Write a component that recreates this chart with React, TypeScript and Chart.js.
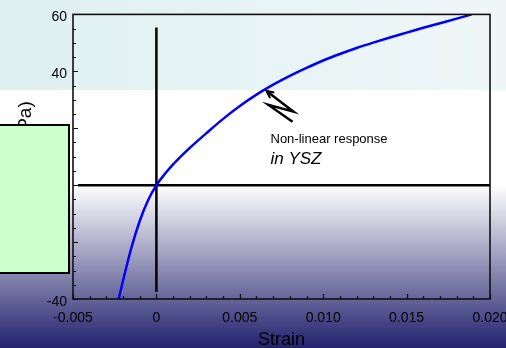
import React, { useEffect, useRef } from "react";
import { Chart, registerables } from "chart.js";

Chart.register(...registerables);

// ---- data ----
const strainValues = [
  -0.00228, -0.002, -0.0015, -0.001, -0.0005, 0, 0.0005, 0.001, 0.0015, 0.002,
  0.003, 0.004, 0.005, 0.006, 0.007, 0.008, 0.009, 0.01, 0.011, 0.012, 0.013,
  0.014, 0.015, 0.016, 0.017, 0.018, 0.0189,
];
const stressValues = [
  -40.5, -33.5, -22, -12.6, -5.3, 0, 3.9, 7.3, 10.3, 13.1, 18.3, 23.3, 27.8,
  31.8, 35.3, 38.4, 41.2, 43.8, 46.1, 48.2, 50.1, 51.9, 53.6, 55.3, 56.9, 58.5,
  60,
];

const zeroStrainLineStrain = [0, 0];
const zeroStrainLineStress = [-37.5, 55.4];
const zeroStressLineStrain = [-0.0047, 0.02];
const zeroStressLineStress = [0, 0];

const xTickValues = [-0.005, 0, 0.005, 0.01, 0.015, 0.02];
const xTickLabels = ["-0.005", "0", "0.005", "0.010", "0.015", "0.020"];
const yTickValues = [-40, -20, 0, 20, 40, 60];
const yTickLabels = ["-40", "-20", "0", "20", "40", "60"];

const xTitle = "Strain";
const yTitle = "Stress (MPa)";

// annotation (data units)
const arrowStrain = [0.0066, 0.00822, 0.00672, 0.00816];
const arrowStress = [33.1, 25.8, 28.2, 22.3];
const noteLines = ["Non-linear response", "in YSZ"];
const noteStrain = 0.00684;
const noteStress = [16.0, 9.2];

const FONT = "'Liberation Sans', Arial, Helvetica, sans-serif";

const decorPlugin = {
  id: "decor",
  beforeDraw(chart: any) {
    const { ctx, width, height } = chart;
    const y0 = chart.scales.y.getPixelForValue(0);
    ctx.save();
    let g = ctx.createLinearGradient(0, 0, width, 0);
    g.addColorStop(0, "#dff0f0");
    g.addColorStop(1, "#f0f7f9");
    ctx.fillStyle = g;
    ctx.fillRect(0, 0, width, 90);
    ctx.fillStyle = "#ffffff";
    ctx.fillRect(0, 90, width, y0 - 90);
    g = ctx.createLinearGradient(0, y0, 0, height);
    g.addColorStop(0, "#ffffff");
    g.addColorStop(1, "#22226e");
    ctx.fillStyle = g;
    ctx.fillRect(0, y0, width, height - y0);
    ctx.restore();
  },
  afterDatasetsDraw(chart: any) {
    const { ctx, chartArea } = chart;
    const xs = chart.scales.x;
    const ys = chart.scales.y;
    ctx.save();
    // frame
    ctx.strokeStyle = "#111";
    ctx.lineWidth = 1.6;
    ctx.strokeRect(
      chartArea.left,
      chartArea.top,
      chartArea.right - chartArea.left,
      chartArea.bottom - chartArea.top
    );
    // inward ticks
    ctx.lineWidth = 1.2;
    ctx.beginPath();
    for (let i = -5; i <= 20; i++) {
      const px = Math.round(xs.getPixelForValue(i / 1000)) + 0.5;
      const len = i % 5 === 0 ? 5 : 3;
      ctx.moveTo(px, chartArea.bottom);
      ctx.lineTo(px, chartArea.bottom - len);
    }
    for (let v = -40; v <= 60; v += 5) {
      const py = Math.round(ys.getPixelForValue(v)) + 0.5;
      const len = v % 20 === 0 ? 5 : 3;
      ctx.moveTo(chartArea.left, py);
      ctx.lineTo(chartArea.left + len, py);
    }
    ctx.stroke();

    // arrow zigzag
    const pts = arrowStrain.map((s, i) => [
      xs.getPixelForValue(s),
      ys.getPixelForValue(arrowStress[i]),
    ]);
    ctx.strokeStyle = "#000";
    ctx.lineWidth = 2.5;
    ctx.lineJoin = "miter";
    ctx.beginPath();
    ctx.moveTo(pts[0][0], pts[0][1]);
    for (let i = 1; i < pts.length; i++) ctx.lineTo(pts[i][0], pts[i][1]);
    ctx.stroke();
    // arrowhead
    const [tx, ty] = pts[0];
    const ang = Math.atan2(pts[1][1] - ty, pts[1][0] - tx);
    const hl = 8;
    ctx.beginPath();
    ctx.moveTo(tx + hl * Math.cos(ang - 0.45), ty + hl * Math.sin(ang - 0.45));
    ctx.lineTo(tx, ty);
    ctx.lineTo(tx + hl * Math.cos(ang + 0.45), ty + hl * Math.sin(ang + 0.45));
    ctx.lineWidth = 2;
    ctx.stroke();

    // note text
    ctx.fillStyle = "#000";
    ctx.textAlign = "left";
    ctx.textBaseline = "middle";
    ctx.font = `13px ${FONT}`;
    ctx.fillText(
      noteLines[0],
      xs.getPixelForValue(noteStrain),
      ys.getPixelForValue(noteStress[0])
    );
    ctx.font = `italic 17px ${FONT}`;
    ctx.fillText(
      noteLines[1],
      xs.getPixelForValue(noteStrain),
      ys.getPixelForValue(noteStress[1])
    );
    ctx.restore();
  },
  afterDraw(chart: any) {
    const { ctx } = chart;
    ctx.save();
    ctx.fillStyle = "#ccffcc";
    ctx.strokeStyle = "#000";
    ctx.lineWidth = 2;
    ctx.fillRect(-2, 125, 71, 148);
    ctx.strokeRect(-2, 125, 71, 148);
    ctx.restore();
  },
};

export default function App() {
  const canvasRef = useRef<HTMLCanvasElement | null>(null);

  useEffect(() => {
    if (!canvasRef.current) return;
    Chart.defaults.font.family = FONT;
    const toPts = (xs: number[], ys: number[]) =>
      xs.map((x, i) => ({ x, y: ys[i] }));
    const chart = new Chart(canvasRef.current, {
      type: "line",
      data: {
        datasets: [
          {
            data: toPts(strainValues, stressValues),
            borderColor: "#0000ff",
            borderWidth: 2.5,
            pointRadius: 0,
            cubicInterpolationMode: "monotone",
            fill: false,
          },
          {
            data: toPts(zeroStrainLineStrain, zeroStrainLineStress),
            borderColor: "#000000",
            borderWidth: 2.5,
            pointRadius: 0,
            fill: false,
          },
          {
            data: toPts(zeroStressLineStrain, zeroStressLineStress),
            borderColor: "#000000",
            borderWidth: 2.5,
            pointRadius: 0,
            fill: false,
          },
        ],
      },
      options: {
        responsive: false,
        animation: false,
        events: [],
        layout: { padding: { left: 0, top: 12, right: 50, bottom: 0 } },
        plugins: {
          legend: { display: false },
          tooltip: { enabled: false },
        },
        scales: {
          x: {
            type: "linear",
            min: -0.005,
            max: 0.02,
            grid: { display: false, drawTicks: false },
            border: { display: false },
            afterBuildTicks: (scale: any) => {
              scale.ticks = xTickValues.map((v) => ({ value: v }));
            },
            afterFit: (scale: any) => {
              scale.height = 49;
            },
            ticks: {
              autoSkip: false,
              maxRotation: 0,
              padding: 11,
              color: "#000",
              font: { size: 14 },
              callback: (v: any) => {
                const i = xTickValues.findIndex((t) => Math.abs(t - v) < 1e-9);
                return i >= 0 ? xTickLabels[i] : "";
              },
            },
            title: {
              display: true,
              text: xTitle,
              color: "#000",
              font: { size: 18 },
              padding: { top: 0, bottom: -3 },
            },
          },
          y: {
            type: "linear",
            min: -40,
            max: 60,
            grid: { display: false, drawTicks: false },
            border: { display: false },
            afterBuildTicks: (scale: any) => {
              scale.ticks = yTickValues.map((v) => ({ value: v }));
            },
            afterFit: (scale: any) => {
              scale.width = 73;
            },
            ticks: {
              autoSkip: false,
              padding: 6,
              labelOffset: 3,
              color: "#000",
              font: { size: 14 },
              callback: (v: any) => {
                const i = yTickValues.findIndex((t) => Math.abs(t - v) < 1e-9);
                return i >= 0 ? yTickLabels[i] : "";
              },
            },
            title: {
              display: true,
              text: yTitle,
              color: "#000",
              font: { size: 19 },
              padding: { top: 14, bottom: 0 },
            },
          },
        },
      },
      plugins: [decorPlugin],
    } as any);
    return () => chart.destroy();
  }, []);

  return (
    <div
      style={{
        position: "fixed",
        left: 0,
        top: 0,
        width: 506,
        height: 348,
        overflow: "hidden",
      }}
    >
      <canvas
        ref={canvasRef}
        width={540}
        height={348}
        style={{ display: "block", width: 540, height: 348 }}
      />
    </div>
  );
}
